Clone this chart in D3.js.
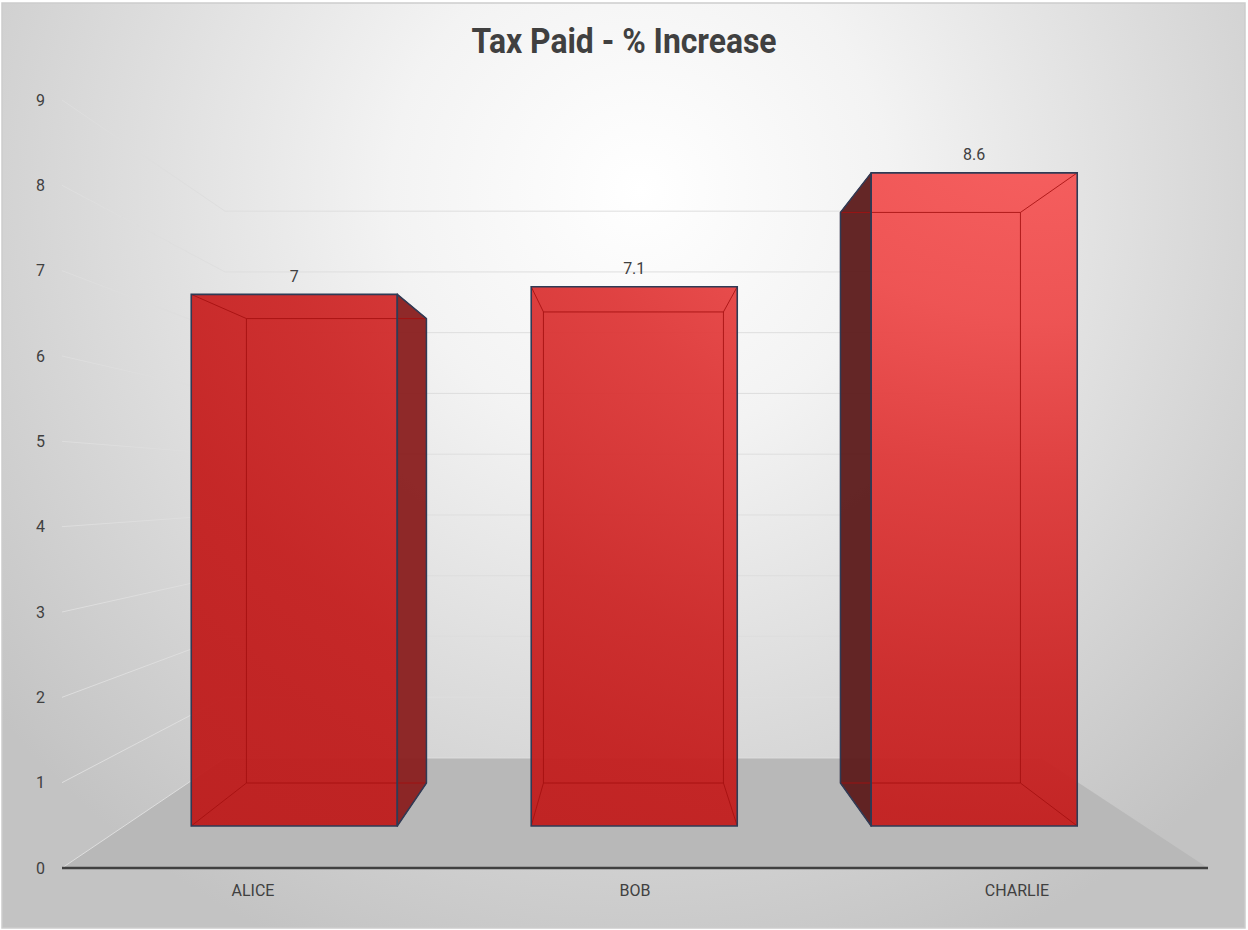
<!DOCTYPE html>
<html>
<head>
<meta charset="utf-8">
<script src="https://cdn.jsdelivr.net/npm/d3@7"></script>
<style>
	body { margin: 0; background: #ffffff; }
	svg { display: block; }
</style>
</head>
<body>
<svg id="chart"></svg>
<script>
var width = 1248,
	height = 930;

// data
var categories = ["ALICE", "BOB", "CHARLIE"];
var values = [7, 7.1, 8.6];
var yTickValues = [0, 1, 2, 3, 4, 5, 6, 7, 8, 9];
var chartTitle = "Tax Paid - % Increase";

// front plane of the 3d box (axis plane)
var plot = ({left: 62, right: 1208, top: 100, bottom: 868});

// perspective: vanishing point and depth scale of each plane
var VX = 628, VY = 486;
var depth = ({axis: 1, barFront: 0.890, barBack: 0.7775, wall: 0.712});

function proj(px, py, t){
	return [VX + (px - VX) * t, VY + (py - VY) * t];
}

var svg = d3.select('#chart')
	.attr('width', width)
	.attr('height', height);

var defs = svg.append('defs');

var bg = defs.append('radialGradient')
	.attr('id', 'bgGrad')
	.attr('gradientUnits', 'userSpaceOnUse')
	.attr('cx', 640).attr('cy', 190).attr('r', 830);
bg.append('stop').attr('offset', 0).attr('stop-color', '#ffffff');
bg.append('stop').attr('offset', 0.3).attr('stop-color', '#f3f3f3');
bg.append('stop').attr('offset', 1).attr('stop-color', '#c3c3c3');

// light comes from the upper right
var barGrad = defs.append('radialGradient')
	.attr('id', 'barGrad')
	.attr('gradientUnits', 'userSpaceOnUse')
	.attr('cx', 1050).attr('cy', 120).attr('r', 1000)
	.attr('gradientTransform', 'translate(1050,120) scale(1.4,1) translate(-1050,-120)');
[[0, '#f85a5a'], [0.2, '#ee4c4c'], [0.36, '#de3838'], [0.57, '#cc2626'],
	[0.7, '#c41e1e'], [0.8, '#c01c1c'], [1, '#bc1a1a']].forEach(s => {
	barGrad.append('stop').attr('offset', s[0]).attr('stop-color', s[1]);
});

// chart area
svg.append('rect')
	.attr('x', 2)
	.attr('y', 3)
	.attr('width', 1243)
	.attr('height', 925)
	.attr('fill', 'url(#bgGrad)')
	.attr('stroke', '#cdcdcd')
	.attr('stroke-width', 1.5);

var x = d3.scaleBand()
	.domain(categories)
	.range([plot.left, plot.right])
	.paddingInner(0.394)
	.paddingOuter(0.197);

var y = d3.scaleLinear()
	.domain([0, 9])
	.range([plot.bottom, plot.top]);

// floor
var floorPts = [
	proj(plot.left, y(0), depth.axis),
	proj(plot.right, y(0), depth.axis),
	proj(plot.right, y(0), depth.wall),
	proj(plot.left, y(0), depth.wall)
];
svg.append('polygon')
	.attr('points', floorPts.map(p => p.join(',')).join(' '))
	.attr('fill', '#b8b8b8');

// gridlines: side wall then back wall
var grid = svg.append('g')
	.attr('fill', 'none')
	.attr('stroke', '#dedede')
	.attr('stroke-width', 1);
grid.selectAll('polyline')
	.data(yTickValues)
	.join('polyline')
		.attr('points', d => [
			proj(plot.left, y(d), depth.axis),
			proj(plot.left, y(d), depth.wall),
			proj(plot.right, y(d), depth.wall)
		].map(p => p.join(',')).join(' '));

// y axis labels
svg.append('g')
	.attr('transform', 'translate(' + plot.left + ',0)')
	.call(d3.axisLeft(y).tickValues(yTickValues).tickSize(0).tickPadding(17))
	.call(g => g.select('.domain').remove())
	.call(g => g.selectAll('text')
		.attr('font-family', 'Roboto, sans-serif')
		.attr('font-size', 16)
		.attr('fill', '#404040'));

// x axis
svg.append('g')
	.attr('transform', 'translate(0,' + plot.bottom + ')')
	.call(d3.axisBottom(x).tickSize(0).tickPadding(17))
	.call(g => g.select('.domain').remove())
	.call(g => g.selectAll('text')
		.attr('font-family', 'Roboto, sans-serif')
		.attr('font-size', 16)
		.attr('fill', '#404040'));

svg.append('line')
	.attr('x1', plot.left)
	.attr('x2', plot.right)
	.attr('y1', y(0))
	.attr('y2', y(0))
	.attr('stroke', '#404040')
	.attr('stroke-width', 2.5);

// bars
var bars = categories.map((c, i) => {
	var x0 = x(c), x1 = x(c) + x.bandwidth();
	var yt = y(values[i]), yb = y(0);
	var f = depth.barFront, b = depth.barBack;
	return {
		name: c,
		value: values[i],
		front: [proj(x0, yt, f), proj(x1, yt, f), proj(x1, yb, f), proj(x0, yb, f)],
		back: [proj(x0, yt, b), proj(x1, yt, b), proj(x1, yb, b), proj(x0, yb, b)],
		side: x1 < VX ? 'right' : (x0 > VX ? 'left' : null)
	};
});

var pts = a => a.map(p => p.join(',')).join(' ');

function sideFace(d){
	if (d.side == 'right') return [d.front[1], d.back[1], d.back[2], d.front[2]];
	if (d.side == 'left') return [d.front[0], d.back[0], d.back[3], d.front[3]];
	return null;
}

var barG = svg.append('g')
	.selectAll('g')
	.data(bars)
	.join('g');

barG.filter(d => d.side)
	.append('polygon')
	.attr('points', d => pts(sideFace(d)))
	.attr('fill', d => d.side == 'right' ? '#8a2020' : '#5e1d1d')
	.attr('fill-opacity', 0.96);

barG.append('polygon')
	.attr('points', d => pts(d.front))
	.attr('fill', 'url(#barGrad)')
	.attr('fill-opacity', 0.95);

// hidden edges seen through the face
barG.append('path')
	.attr('d', d => {
		var s = 'M' + d.back.map(p => p.join(',')).join('L') + 'Z';
		for (var k = 0; k < 4; k++){
			s += 'M' + d.front[k].join(',') + 'L' + d.back[k].join(',');
		}
		return s;
	})
	.attr('fill', 'none')
	.attr('stroke', '#a50f0f')
	.attr('stroke-opacity', 0.85)
	.attr('stroke-width', 1);

barG.filter(d => d.side)
	.append('polygon')
	.attr('points', d => pts(sideFace(d)))
	.attr('fill', 'none')
	.attr('stroke', '#2f3b55')
	.attr('stroke-width', 1.5)
	.attr('stroke-linejoin', 'round');

barG.append('polygon')
	.attr('points', d => pts(d.front))
	.attr('fill', 'none')
	.attr('stroke', '#2f3b55')
	.attr('stroke-width', 1.6);

// value labels
svg.append('g')
	.selectAll('text')
	.data(bars)
	.join('text')
		.attr('x', d => (d.front[0][0] + d.front[1][0]) / 2)
		.attr('y', d => d.front[0][1] - 12.5)
		.attr('text-anchor', 'middle')
		.attr('font-family', 'Roboto, sans-serif')
		.attr('font-size', 16)
		.attr('fill', '#404040')
		.text(d => d.value);

// title (no narrow font installed, so squeeze it to the original width)
svg.append('text')
	.attr('x', 624)
	.attr('y', 53)
	.attr('text-anchor', 'middle')
	.attr('font-family', 'Roboto, sans-serif')
	.attr('font-weight', 'bold')
	.attr('font-size', 35)
	.attr('textLength', 305)
	.attr('lengthAdjust', 'spacingAndGlyphs')
	.attr('fill', '#404040')
	.text(chartTitle);
</script>
</body>
</html>
